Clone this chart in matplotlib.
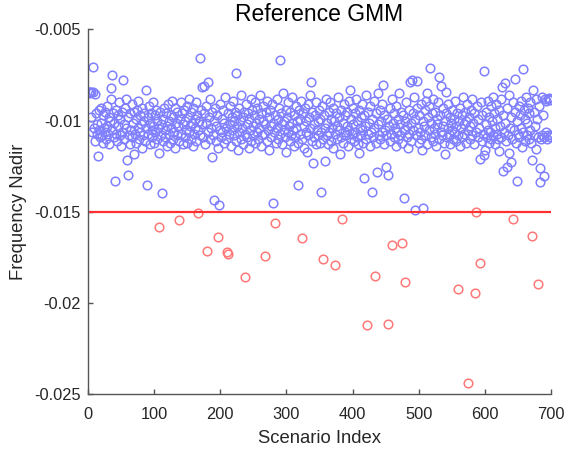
import numpy as np
import matplotlib
matplotlib.use("Agg")
import matplotlib.pyplot as plt
from matplotlib.ticker import FuncFormatter

plt.rcParams['font.family'] = ['Liberation Sans', 'DejaVu Sans']

title = "Reference GMM"
xlabel = "Scenario Index"
ylabel = "Frequency Nadir"
threshold = -0.015
xticks = [0, 100, 200, 300, 400, 500, 600, 700]
yticks = [-0.025, -0.02, -0.015, -0.01, -0.005]

# frequency nadir per scenario, in units of 1e-4
nadir_e4 = [
    # 1-50
    -84.5, -84, -85, -98, -84.5, -106, -84, -70.5, -104, -85.5,
    -111, -96, -107, -102, -119.5, -94, -105, -109, -93, -101,
    -108, -97, -112, -104, -95, -106, -110, -92, -103, -107,
    -98, -113, -100, -82, -88, -75, -105, -96, -109, -101,
    -133, -94, -107, -111, -97, -103, -90, -108, -99, -114,
    # 51-100
    -95, -106, -77.5, -102, -110, -93, -104, -88, -121.5, -130,
    -98, -108, -113, -96, -105, -91, -109, -101, -118, -95,
    -107, -99, -112, -94, -104, -89, -110, -97, -106, -102,
    -115, -93, -108, -100, -96, -111, -83, -104, -135, -98,
    -107, -92, -113, -101, -96, -109, -105, -90, -103, -112,
    # 101-150
    -97, -106, -94, -110, -100, -104, -117.5, -158.4, -95, -108,
    -102, -139.8, -99, -111, -93, -105, -109, -96, -103, -114,
    -91, -107, -100, -112, -97, -104, -89, -110, -98, -106,
    -93, -115, -101, -108, -95, -103, -111, -154.2, -99, -90,
    -107, -96, -113, -102, -94, -109, -100, -105, -92, -112,
    # 151-200
    -98, -106, -88, -103, -110, -95, -101, -114, -93, -107,
    -99, -104, -90, -111, -97, -105, -150.7, -100, -65.5, -108,
    -94, -102, -81.7, -109, -81, -96, -113, -101, -92, -171.6,
    -79, -106, -98, -110, -88, -104, -120, -95, -108, -100,
    -143.5, -93, -111, -103, -97, -115, -163.7, -146, -105, -91,
    # 201-250
    -109, -99, -106, -94, -112, -101, -87, -104, -110, -171.8,
    -96, -173.2, -107, -92, -102, -114, -98, -105, -89, -108,
    -100, -95, -73.7, -111, -97, -103, -116, -93, -106, -100,
    -110, -86, -104, -98, -113, -95, -185.6, -107, -91, -102,
    -109, -96, -115, -99, -105, -88, -111, -94, -103, -108,
    # 251-300
    -97, -112, -90, -101, -106, -93, -110, -99, -104, -86,
    -114, -96, -108, -100, -92, -107, -102, -174.1, -95, -111,
    -89, -105, -98, -116, -94, -103, -109, -91, -145.3, -101,
    -106, -97, -155.9, -112, -88, -104, -99, -110, -93, -66.7,
    -107, -96, -102, -113, -85, -105, -100, -109, -94, -117,
    # 301-350
    -98, -106, -90, -103, -111, -95, -108, -101, -87, -105,
    -114, -97, -109, -92, -104, -100, -135.2, -112, -94, -107,
    -99, -89, -164.3, -110, -96, -103, -115, -93, -106, -100,
    -117, -91, -108, -98, -104, -86, -78.6, -111, -95, -123,
    -102, -109, -97, -113, -90, -105, -100, -108, -94, -112,
    # 351-400
    -99, -139, -106, -92, -110, -175.6, -97, -104, -122, -88,
    -108, -101, -113, -95, -106, -90, -111, -99, -104, -93,
    -115, -100, -179.2, -107, -96, -103, -110, -87, -105, -98,
    -118.4, -94, -109, -153.8, -101, -112, -91, -106, -97, -108,
    -103, -95, -114, -89, -105, -83, -110, -99, -107, -93,
    # 401-450
    -102, -111, -96, -106, -88, -109, -100, -113, -94, -117.9,
    -104, -98, -108, -91, -105, -112, -131.2, -97, -103, -110,
    -86, -211.8, -107, -95, -101, -114, -92, -106, -139, -99,
    -109, -89, -104, -185.1, -112, -96, -128, -102, -85, -108,
    -94, -110, -100, -106, -91, -80.4, -113, -97, -105, -108,
    # 451-500
    -125.5, -99, -130, -211.6, -103, -111, -93, -107, -88, -167.9,
    -101, -109, -96, -104, -114, -92, -106, -99, -110, -84.6,
    -102, -108, -95, -167.2, -112, -97, -142.5, -105, -188.4, -100,
    -90, -109, -103, -115, -94, -107, -79, -101, -111, -77.7,
    -96, -105, -87, -149, -99, -108, -93, -78, -104, -112,
    # 501-550
    -97, -106, -91, -110, -116, -147.7, -100, -103, -94, -108,
    -89, -85, -113, -98, -105, -92, -71.3, -109, -101, -96,
    -111, -88, -104, -107, -95, -114, -99, -102, -90, -76.2,
    -110, -97, -106, -81, -108, -93, -103, -112, -100, -118,
    -96, -84, -109, -104, -91, -107, -98, -113, -101, -105,
    # 551-600
    -94, -110, -99, -106, -89, -103, -111, -96, -192, -108,
    -100, -93, -114, -104, -97, -109, -87, -102, -107, -95,
    -112, -100, -91, -105, -243.6, -98, -110, -103, -94, -108,
    -88, -101, -113, -96, -194.6, -150.2, -106, -92, -109, -99,
    -104, -121, -177.8, -90, -111, -97, -107, -118.8, -73, -116,
    # 601-650
    -102, -95, -109, -89, -105, -112, -98, -106, -92, -110,
    -100, -87, -108, -96, -104, -113, -91, -107, -99, -110,
    -94, -116.6, -103, -88, -109, -81.7, -127.3, -97, -106, -79.5,
    -101, -111, -125.1, -93, -108, -117.5, -86, -104, -98, -122.4,
    -110, -90, -153.8, -105, -77.3, -95, -112, -100, -133, -107,
    # 651-700
    -92, -109, -97, -104, -89, -114.6, -71.7, -106, -94, -111,
    -99, -87, -108, -101, -93, -110, -96, -105, -90, -112,
    -163.2, -121.5, -83.2, -108, -95, -103, -88, -115.7, -99, -189.6,
    -109, -92, -126, -133.4, -110, -87, -108, -97, -130.3, -109,
    -88, -106, -89, -110, -88, -108, -87.5, -109, -88.5, -108,
]

nadir = np.array(nadir_e4) * 1e-4
scenario = np.arange(1, len(nadir) + 1)
below = nadir < threshold

fig = plt.figure(figsize=(5.66, 4.51), dpi=100)
ax = fig.add_axes([0.1555, 0.1253, 0.818, 0.8093])

ax.plot(scenario[~below], nadir[~below], 'o', mfc='none', mec='#8080FF',
        ms=6.2, mew=1.1, ls='none')
ax.plot(scenario[below], nadir[below], 'o', mfc='none', mec='#FF7878',
        ms=6.2, mew=1.1, ls='none')
ax.plot([0, 700], [threshold, threshold], '-', color='#FF3030', lw=1.6)

ax.set_xlim(0, 700)
ax.set_ylim(-0.025, -0.005)
ax.set_xticks(xticks)
ax.set_yticks(yticks)
ax.yaxis.set_major_formatter(FuncFormatter(lambda v, p: '%g' % v))

for s in ['top', 'right']:
    ax.spines[s].set_visible(False)
for s in ['left', 'bottom']:
    ax.spines[s].set_color('#555555')
    ax.spines[s].set_linewidth(1.0)
ax.tick_params(direction='in', length=3.3, width=1.0, color='#555555',
               labelsize=11.8, labelcolor='#262626')
ax.tick_params(axis='x', pad=9)
ax.tick_params(axis='y', pad=5)

ax.set_title(title, fontsize=16.5, color='black', pad=6)
ax.set_xlabel(xlabel, fontsize=13.3, color='#262626', labelpad=6)
ax.set_ylabel(ylabel, fontsize=13.3, color='#262626', labelpad=5)

fig.savefig('out.png', dpi=100)
